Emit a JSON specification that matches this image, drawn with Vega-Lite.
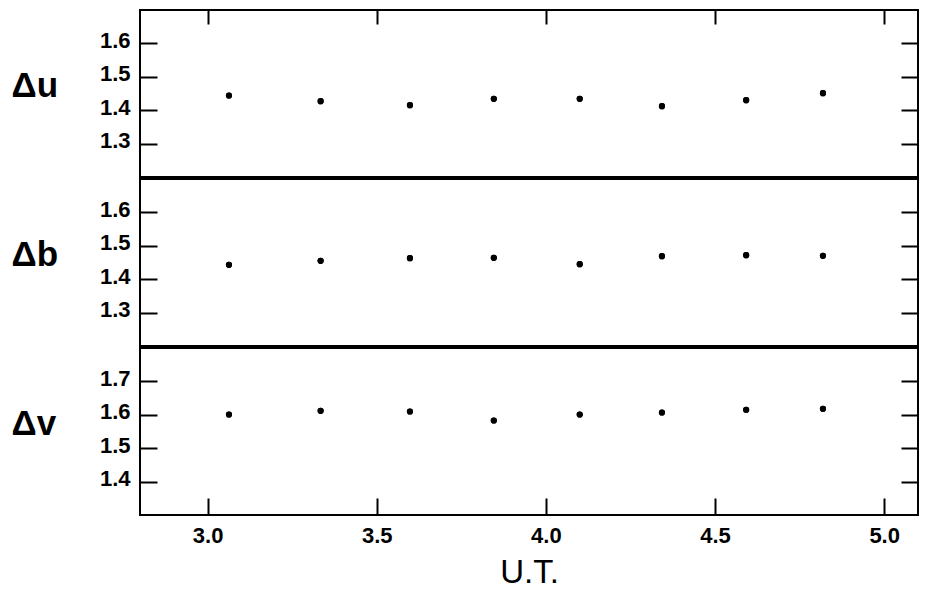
{
  "$schema": "https://vega.github.io/schema/vega-lite/v6.json",
  "background": "white",
  "padding": {"left": 10, "top": 8, "right": 5, "bottom": 0},
  "spacing": 0,
  "config": {
    "view": {"stroke": "black", "strokeWidth": 2},
    "concat": {"spacing": 0},
    "axis": {
      "domain": false,
      "grid": false,
      "tickColor": "black",
      "tickWidth": 2,
      "labelColor": "black",
      "labelFont": "Liberation Sans",
      "labelFontWeight": "bold",
      "labelFontSize": 22,
      "titleColor": "black",
      "titleFont": "Liberation Sans"
    }
  },
  "datasets": {
    "du": [
      {"ut": 3.063, "d": 1.444},
      {"ut": 3.334, "d": 1.427},
      {"ut": 3.598, "d": 1.415},
      {"ut": 3.846, "d": 1.434},
      {"ut": 4.100, "d": 1.434},
      {"ut": 4.343, "d": 1.412},
      {"ut": 4.592, "d": 1.430},
      {"ut": 4.819, "d": 1.451}
    ],
    "db": [
      {"ut": 3.063, "d": 1.443},
      {"ut": 3.334, "d": 1.455},
      {"ut": 3.598, "d": 1.463},
      {"ut": 3.846, "d": 1.464},
      {"ut": 4.100, "d": 1.445},
      {"ut": 4.343, "d": 1.469},
      {"ut": 4.592, "d": 1.472},
      {"ut": 4.819, "d": 1.470}
    ],
    "dv": [
      {"ut": 3.063, "d": 1.601},
      {"ut": 3.334, "d": 1.612},
      {"ut": 3.598, "d": 1.610},
      {"ut": 3.846, "d": 1.583},
      {"ut": 4.100, "d": 1.601},
      {"ut": 4.343, "d": 1.607},
      {"ut": 4.592, "d": 1.615},
      {"ut": 4.819, "d": 1.618}
    ]
  },
  "vconcat": [
    {
      "width": 778,
      "height": 167,
      "data": {"name": "du"},
      "layer": [
        {
          "mark": {"type": "circle", "size": 38, "color": "black", "opacity": 1},
          "encoding": {
            "x": {"field": "ut", "type": "quantitative", "scale": {"domain": [2.8, 5.1], "nice": false, "zero": false},
                  "axis": {"orient": "top", "values": [3, 3.5, 4, 4.5, 5], "labels": false, "tickSize": -14, "title": null}},
            "y": {"field": "d", "type": "quantitative", "scale": {"domain": [1.2, 1.7], "nice": false, "zero": false},
                  "axis": {"orient": "left", "values": [1.3, 1.4, 1.5, 1.6], "format": ".1f", "tickSize": -17, "labelPadding": 27, "labelOffset": -3,
                           "title": "Δu", "titleAngle": 0, "titleX": -129, "titleY": 86, "titleAlign": "left", "titleBaseline": "alphabetic", "titleFontSize": 35, "titleFontWeight": "bold"}}
          }
        },
        {
          "mark": {"type": "circle", "size": 38, "color": "black", "opacity": 1},
          "encoding": {
            "x": {"field": "ut", "type": "quantitative",
                  "axis": {"orient": "top", "values": [3, 3.5, 4, 4.5, 5], "labels": false, "tickSize": -14, "title": null}},
            "y": {"field": "d", "type": "quantitative",
                  "axis": {"orient": "right", "values": [1.3, 1.4, 1.5, 1.6], "labels": false, "tickSize": -17, "title": null}}
          }
        }
      ],
      "resolve": {"axis": {"y": "independent"}}
    },
    {
      "width": 778,
      "height": 167,
      "data": {"name": "db"},
      "layer": [
        {
          "mark": {"type": "circle", "size": 38, "color": "black", "opacity": 1},
          "encoding": {
            "x": {"field": "ut", "type": "quantitative", "scale": {"domain": [2.8, 5.1], "nice": false, "zero": false}, "axis": null},
            "y": {"field": "d", "type": "quantitative", "scale": {"domain": [1.2, 1.7], "nice": false, "zero": false},
                  "axis": {"orient": "left", "values": [1.3, 1.4, 1.5, 1.6], "format": ".1f", "tickSize": -17, "labelPadding": 27, "labelOffset": -3,
                           "title": "Δb", "titleAngle": 0, "titleX": -129, "titleY": 86, "titleAlign": "left", "titleBaseline": "alphabetic", "titleFontSize": 35, "titleFontWeight": "bold"}}
          }
        },
        {
          "mark": {"type": "circle", "size": 38, "color": "black", "opacity": 1},
          "encoding": {
            "x": {"field": "ut", "type": "quantitative", "axis": null},
            "y": {"field": "d", "type": "quantitative",
                  "axis": {"orient": "right", "values": [1.3, 1.4, 1.5, 1.6], "labels": false, "tickSize": -17, "title": null}}
          }
        }
      ],
      "resolve": {"axis": {"y": "independent"}}
    },
    {
      "width": 778,
      "height": 167,
      "data": {"name": "dv"},
      "layer": [
        {
          "mark": {"type": "circle", "size": 38, "color": "black", "opacity": 1},
          "encoding": {
            "x": {"field": "ut", "type": "quantitative", "scale": {"domain": [2.8, 5.1], "nice": false, "zero": false},
                  "axis": {"orient": "bottom", "values": [3, 3.5, 4, 4.5, 5], "format": ".1f", "tickSize": -17, "labelPadding": 27,
                           "title": "U.T.", "titleFontSize": 33, "titleFontWeight": "normal", "titleY": 67, "titleBaseline": "alphabetic"}},
            "y": {"field": "d", "type": "quantitative", "scale": {"domain": [1.3, 1.8], "nice": false, "zero": false},
                  "axis": {"orient": "left", "values": [1.4, 1.5, 1.6, 1.7], "format": ".1f", "tickSize": -17, "labelPadding": 27, "labelOffset": -3,
                           "title": "Δv", "titleAngle": 0, "titleX": -129, "titleY": 86, "titleAlign": "left", "titleBaseline": "alphabetic", "titleFontSize": 35, "titleFontWeight": "bold"}}
          }
        },
        {
          "mark": {"type": "circle", "size": 38, "color": "black", "opacity": 1},
          "encoding": {
            "x": {"field": "ut", "type": "quantitative",
                  "axis": {"orient": "bottom", "values": [3, 3.5, 4, 4.5, 5], "format": ".1f", "tickSize": -17, "labelPadding": 27,
                           "title": "U.T.", "titleFontSize": 33, "titleFontWeight": "normal", "titleY": 67, "titleBaseline": "alphabetic"}},
            "y": {"field": "d", "type": "quantitative",
                  "axis": {"orient": "right", "values": [1.4, 1.5, 1.6, 1.7], "labels": false, "tickSize": -17, "title": null}}
          }
        }
      ],
      "resolve": {"axis": {"y": "independent"}}
    }
  ]
}
